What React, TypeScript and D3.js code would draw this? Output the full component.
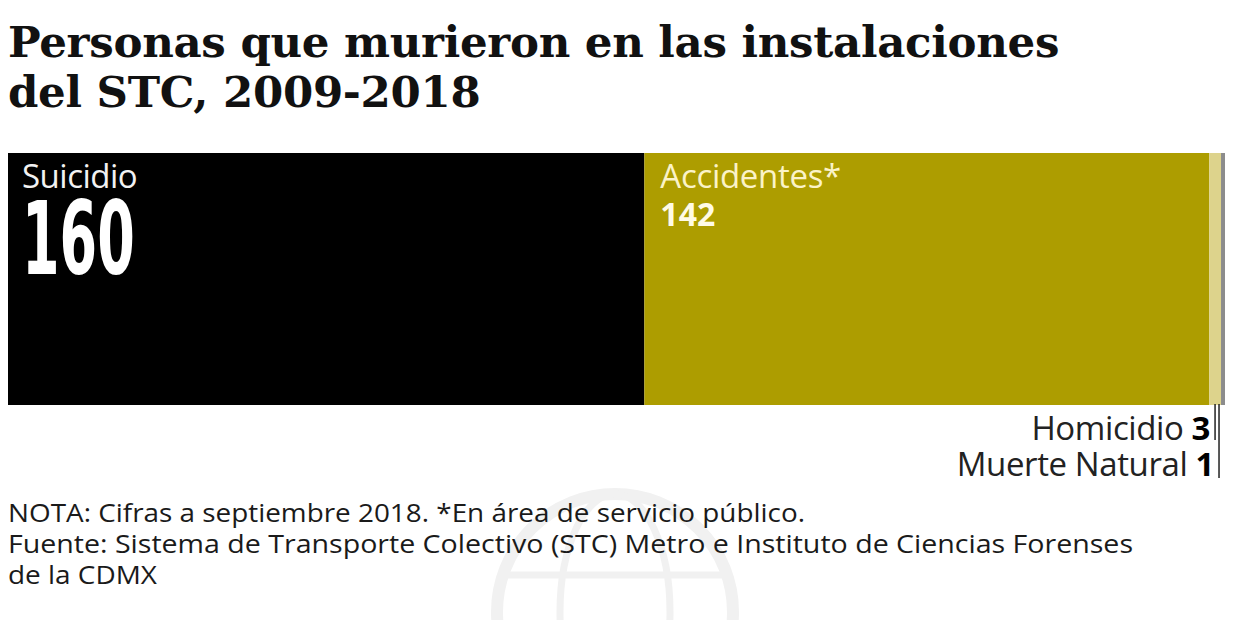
import React, { useEffect, useRef } from 'react';
import * as d3 from 'd3';

const CATEGORIES = ['Suicidio', 'Accidentes*', 'Homicidio', 'Muerte Natural'];
const VALUES = [160, 142, 3, 1];
const COLORS = ['#000000', '#ad9d00', '#ddd38c', '#8c8c8c'];
const TITLE_LINES = ['Personas que murieron en las instalaciones', 'del STC, 2009-2018'];
const NOTE_LINES = [
  'NOTA: Cifras a septiembre 2018. *En área de servicio público.',
  'Fuente: Sistema de Transporte Colectivo (STC) Metro e Instituto de Ciencias Forenses',
  'de la CDMX',
];
const NOTE_WIDTHS = [797, 1125, 149];

const W = 1233;
const H = 620;

const App: React.FC = () => {
  const svgRef = useRef<SVGSVGElement>(null);

  useEffect(() => {
    if (!svgRef.current) return;
    const svg = d3.select(svgRef.current);
    svg.selectAll('*').remove();

    // faint globe watermark
    const wm = svg.append('g').attr('fill', 'none').attr('stroke', '#f1f1f1').attr('stroke-width', 12);
    wm.append('circle').attr('cx', 615).attr('cy', 612).attr('r', 118);
    wm.append('ellipse').attr('cx', 615).attr('cy', 612).attr('rx', 55).attr('ry', 118).attr('stroke-width', 7);
    wm.append('line').attr('x1', 500).attr('x2', 730).attr('y1', 575).attr('y2', 575).attr('stroke-width', 7);

    // title
    svg.append('g')
      .selectAll('text')
      .data(TITLE_LINES)
      .join('text')
      .attr('x', 8)
      .attr('y', (_, i) => 57 + i * 50)
      .attr('font-family', 'DejaVu Serif')
      .attr('font-weight', 'bold')
      .attr('font-size', 43.5)
      .attr('letter-spacing', -0.3)
      .attr('fill', '#111')
      .text((d) => d);

    const total = d3.sum(VALUES);
    const x = d3.scaleLinear().domain([0, total]).range([8, 1225]);
    const cum = d3.cumsum(VALUES);
    const starts = VALUES.map((v, i) => cum[i] - v);
    const barTop = 153;
    const barBottom = 405;

    svg.append('g')
      .selectAll('rect')
      .data(VALUES)
      .join('rect')
      .attr('x', (_, i) => x(starts[i]))
      .attr('y', barTop)
      .attr('width', (d) => x(d) - x(0))
      .attr('height', barBottom - barTop)
      .attr('fill', (_, i) => COLORS[i]);

    const sans = 'Open Sans';

    // Suicidio label
    svg.append('text')
      .attr('x', x(starts[0]) + 14)
      .attr('y', 188)
      .attr('font-family', sans)
      .attr('font-size', 33)
      .attr('letter-spacing', -0.5)
      .attr('fill', '#f2f2f2')
      .text(CATEGORIES[0]);
    svg.append('text')
      .attr('transform', `translate(${x(starts[0]) + 14},274) scale(0.53,1)`)
      .attr('font-family', 'DejaVu Sans')
      .attr('font-weight', 'bold')
      .attr('font-size', 102)
      .attr('fill', '#ffffff')
      .text(String(VALUES[0]));

    // Accidentes label
    svg.append('text')
      .attr('x', x(starts[1]) + 16)
      .attr('y', 188)
      .attr('font-family', sans)
      .attr('font-size', 33)
      .attr('letter-spacing', -0.3)
      .attr('fill', '#fbf3c8')
      .text(CATEGORIES[1]);
    svg.append('text')
      .attr('x', x(starts[1]) + 16)
      .attr('y', 226)
      .attr('font-family', sans)
      .attr('font-weight', 'bold')
      .attr('font-size', 32)
      .attr('fill', '#fffbe6')
      .text(String(VALUES[1]));

    // small categories with leader lines
    const smallLabels = [
      { i: 2, y: 440, lx: x(starts[2]) + (x(VALUES[2]) - x(0)) / 2, ly: 440 },
      { i: 3, y: 476, lx: x(starts[3]) - 2, ly: 478 },
    ];
    smallLabels.forEach((s) => {
      svg.append('line')
        .attr('x1', s.lx)
        .attr('x2', s.lx)
        .attr('y1', barBottom - 1)
        .attr('y2', s.ly)
        .attr('stroke', '#222')
        .attr('stroke-width', 1.5);
      const t = svg.append('text')
        .attr('x', s.lx - 5)
        .attr('y', s.y)
        .attr('text-anchor', 'end')
        .attr('font-family', sans)
        .attr('font-size', 33)
        .attr('letter-spacing', -0.4)
        .attr('fill', '#222');
      t.append('tspan').text(CATEGORIES[s.i] + ' ');
      t.append('tspan').attr('font-weight', 'bold').attr('fill', '#000').text(String(VALUES[s.i]));
    });

    // notes
    svg.append('g')
      .selectAll('text')
      .data(NOTE_LINES)
      .join('text')
      .attr('x', 8)
      .attr('y', (_, i) => 522 + i * 31)
      .attr('font-family', sans)
      .attr('font-size', 25)
      .attr('textLength', (_, i) => NOTE_WIDTHS[i])
      .attr('lengthAdjust', 'spacingAndGlyphs')
      .attr('fill', '#1a1a1a')
      .text((d) => d);
  }, []);

  return (
    <div style={{ position: 'absolute', left: 0, top: 0 }}>
      <svg ref={svgRef} width={W} height={H} style={{ display: 'block', background: '#fff' }} />
    </div>
  );
};

export default App;
